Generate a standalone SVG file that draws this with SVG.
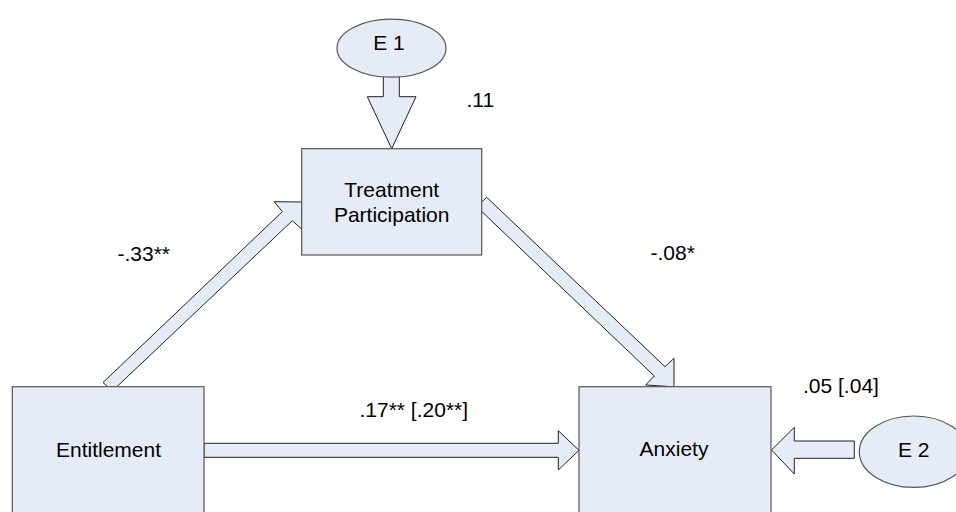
<svg xmlns="http://www.w3.org/2000/svg" width="956" height="512" viewBox="0 0 956 512">
  <style>
    .node { fill: #E6ECF7; stroke: #555555; stroke-width: 1.2; }
    .arrow { fill: #E6ECF7; stroke: #222222; stroke-width: 1; stroke-linejoin: miter; }
    text { font-family: "Liberation Sans", Arial, sans-serif; font-size: 21px; fill: #000000; }
    .c { text-anchor: middle; }
  </style>
  <rect width="956" height="512" fill="#FFFFFF"/>
  <g id="connectors">
    <polygon class="arrow" points="383.3,70 399.3,70 399.3,96.7 416,96.7 391.7,148.7 367.3,96.7 383.3,96.7"/>
    <polygon class="arrow" points="103,382.5 282.3,211.7 274.3,201.7 302,202 302,229.3 292.3,220.7 112.3,391"/>
    <polygon class="arrow" points="476.7,206.7 486.7,197.3 665,366.7 674,358.3 674,386.8 645.7,385 654.3,376"/>
    <polygon class="arrow" points="204,443.3 558.3,443.3 558.3,430.7 579,450.3 558.3,470 558.3,457.3 204,457.3"/>
    <polygon class="arrow" points="854.3,441 794.3,441 794.3,427.3 771.5,450 794.3,474 794.3,458.3 854.3,458.3"/>
  </g>
  <g id="E1">
    <ellipse class="node" cx="391.5" cy="48.2" rx="54.5" ry="29"/>
    <text class="c" x="389" y="49.5">E 1</text>
  </g>
  <g id="TreatmentParticipation">
    <rect class="node" x="301.7" y="148.7" width="180" height="106.3"/>
    <text class="c" x="391.7" y="197">Treatment</text>
    <text class="c" x="391.7" y="222">Participation</text>
  </g>
  <g id="Entitlement">
    <rect class="node" x="12.3" y="386.7" width="191.7" height="130"/>
    <text class="c" x="108.5" y="456.7">Entitlement</text>
  </g>
  <g id="Anxiety">
    <rect class="node" x="579" y="386.7" width="192" height="130"/>
    <text class="c" x="674" y="456.3">Anxiety</text>
  </g>
  <g id="E2">
    <ellipse class="node" cx="913.7" cy="451.7" rx="54.4" ry="35.7"/>
    <text class="c" x="913.7" y="457.3">E 2</text>
  </g>
  <g id="labels">
    <text x="466.5" y="106.7">.11</text>
    <text x="117.5" y="261">-.33**</text>
    <text x="650.5" y="260">-.08*</text>
    <text x="359.5" y="416.7">.17** [.20**]</text>
    <text x="803" y="393.3">.05 [.04]</text>
  </g>
</svg>
